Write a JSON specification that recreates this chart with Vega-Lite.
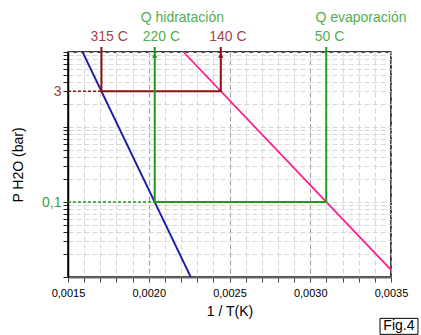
{
  "$schema": "https://vega.github.io/schema/vega-lite/v6.json",
  "autosize": "none",
  "width": 323,
  "height": 225,
  "padding": {"left": 68, "top": 52, "right": 30, "bottom": 58},
  "background": "white",
  "config": {
    "font": "Liberation Sans",
    "view": {"stroke": "#000", "strokeWidth": 1.5}
  },
  "datasets": {
    "curvas": [
      {"grupo": "hidrato", "x": 0.00159, "p": 10},
      {"grupo": "hidrato", "x": 0.00226, "p": 0.01},
      {"grupo": "agua", "x": 0.002215, "p": 10},
      {"grupo": "agua", "x": 0.0035, "p": 0.0124}
    ],
    "ciclo": [
      {"grupo": "rojo", "orden": 1, "x": 0.001707, "p": 11.7},
      {"grupo": "rojo", "orden": 2, "x": 0.001707, "p": 3},
      {"grupo": "rojo", "orden": 3, "x": 0.002446, "p": 3},
      {"grupo": "rojo", "orden": 4, "x": 0.002446, "p": 11.7},
      {"grupo": "verde", "orden": 1, "x": 0.002037, "p": 11.7},
      {"grupo": "verde", "orden": 2, "x": 0.002037, "p": 0.1},
      {"grupo": "verde", "orden": 3, "x": 0.003099, "p": 0.1},
      {"grupo": "verde", "orden": 4, "x": 0.003099, "p": 11.7}
    ],
    "guias": [
      {"grupo": "rojo", "x": 0.0015, "p": 3},
      {"grupo": "rojo", "x": 0.001707, "p": 3},
      {"grupo": "verde", "x": 0.0015, "p": 0.1},
      {"grupo": "verde", "x": 0.002037, "p": 0.1}
    ],
    "flechas": [
      {"grupo": "verde", "x": 0.002037, "p": 9.0},
      {"grupo": "rojo", "x": 0.002446, "p": 9.0}
    ],
    "etiquetas": [
      {"grupo": "rojo", "texto": "315 C", "x": 0.001755, "p": 15.85},
      {"grupo": "verde", "texto": "220 C", "x": 0.002078, "p": 15.85},
      {"grupo": "rojo", "texto": "140 C", "x": 0.00249, "p": 15.85},
      {"grupo": "verde", "texto": "50 C", "x": 0.003119, "p": 15.85},
      {"grupo": "verde", "texto": "Q hidratación", "x": 0.002208, "p": 28},
      {"grupo": "verde", "texto": "Q evaporación", "x": 0.003314, "p": 28}
    ],
    "figura": [
      {"texto": "Fig.4", "x": 0.003432, "x2": 0.003667, "p": 0.00281, "p2": 0.00172, "xc": 0.003549, "pc": 0.0022}
    ]
  },
  "encoding": {
    "x": {
      "field": "x", "type": "quantitative",
      "scale": {"domain": [0.0015, 0.0035], "nice": false, "zero": false},
      "axis": {
        "title": "1 / T(K)",
        "values": [0.0015,0.0016,0.0017,0.0018,0.0019,0.002,0.0021,0.0022,0.0023,0.0024,0.0025,0.0026,0.0027,0.0028,0.0029,0.003,0.0031,0.0032,0.0033,0.0034,0.0035],
        "labelExpr": "round(datum.value*10000) % 5 == 0 ? replace(format(datum.value, '.4f'), '.', ',') : ''",
        "labelFontSize": 11, "labelColor": "#000", "labelPadding": 5,
        "labelFlush": false,
        "tickSize": 5, "tickColor": "#444",
        "domainColor": "#666", "domainWidth": 2,
        "grid": true,
        "gridColor": {"condition": {"test": "round(datum.value*10000) % 5 == 0", "value": "#9a9a9a"}, "value": "#d6d6d6"},
        "gridDash": [5, 3],
        "titleFontSize": 14, "titleFontWeight": "normal", "titleColor": "#000", "titlePadding": 6
      }
    },
    "y": {
      "field": "p", "type": "quantitative",
      "scale": {"type": "log", "domain": [0.01, 10], "nice": false},
      "axis": {
        "title": "P H2O (bar)",
        "values": [0.01,0.02,0.03,0.04,0.05,0.06,0.07,0.08,0.09,0.1,0.2,0.3,0.4,0.5,0.6,0.7,0.8,0.9,1,2,3,4,5,6,7,8,9,10],
        "labelExpr": "datum.value == 3 ? '3' : (datum.value == 0.1 ? '0,1' : '')",
        "labelColor": {"condition": {"test": "datum.value == 3", "value": "#a03c3c"}, "value": "#3fa03f"},
        "labelFontSize": 14, "labelPadding": 2,
        "tickSize": 5, "tickColor": "#222",
        "domainColor": "#000", "domainWidth": 1.5,
        "grid": true, "gridColor": "#d6d6d6", "gridDash": [5, 3],
        "titleFontSize": 14, "titleFontWeight": "normal", "titleColor": "#000", "titlePadding": 16
      }
    },
    "color": {
      "field": "grupo", "type": "nominal",
      "scale": {"domain": ["hidrato", "agua", "rojo", "verde"], "range": ["#1a1aa6", "#ff1a8c", "#8b1010", "#1f9a1f"]},
      "legend": null
    }
  },
  "layer": [
    {
      "data": {"name": "curvas"},
      "mark": {"type": "line", "strokeWidth": 1.8},
      "encoding": {
        "detail": {"field": "grupo"}
      }
    },
    {
      "data": {"name": "guias"},
      "mark": {"type": "line", "strokeWidth": 1.5, "strokeDash": [3, 2], "clip": false},
      "encoding": {
        "detail": {"field": "grupo"}
      }
    },
    {
      "data": {"name": "ciclo"},
      "mark": {"type": "line", "strokeWidth": 2, "clip": false},
      "encoding": {
        "order": {"field": "orden", "type": "quantitative"},
        "detail": {"field": "grupo"}
      }
    },
    {
      "data": {"name": "flechas"},
      "mark": {"type": "point", "shape": "triangle-up", "filled": true, "size": 30, "opacity": 1, "clip": false},
      "encoding": {}
    },
    {
      "data": {"name": "etiquetas"},
      "mark": {"type": "text", "fontSize": 14, "baseline": "middle", "align": "center", "opacity": 0.8, "clip": false},
      "encoding": {
        "text": {"field": "texto"}
      }
    },
    {
      "data": {"name": "figura"},
      "mark": {"type": "rect", "fill": "white", "stroke": "#000", "strokeWidth": 1, "clip": false},
      "encoding": {
        "x2": {"field": "x2"},
        "y2": {"field": "p2"},
        "color": {"value": "white"}
      }
    },
    {
      "data": {"name": "figura"},
      "mark": {"type": "text", "fontSize": 14, "baseline": "middle", "align": "center", "clip": false},
      "encoding": {
        "x": {"field": "xc", "type": "quantitative"},
        "y": {"field": "pc", "type": "quantitative"},
        "text": {"field": "texto"},
        "color": {"value": "#000"}
      }
    }
  ]
}
